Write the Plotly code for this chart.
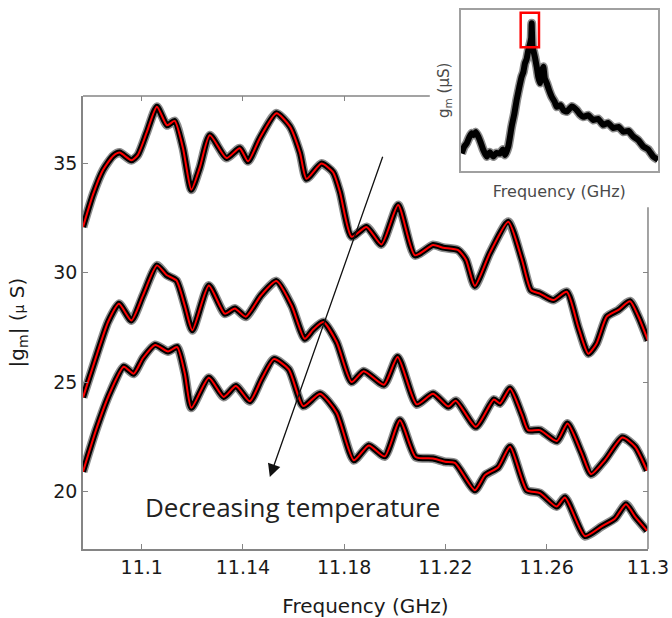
import plotly.graph_objects as go

# ---- transconductance sweeps (GHz, uS): smoothed |gm| ----
freq_t1 = [11.0768, 11.0808, 11.0847, 11.0887, 11.0913, 11.0959, 11.0985, 11.1019,
           11.1060, 11.1100, 11.1130, 11.1163, 11.1196, 11.1229, 11.1269, 11.1335,
           11.1387, 11.1420, 11.1466, 11.1532, 11.1585, 11.1625, 11.1651, 11.1710,
           11.1756, 11.1783, 11.1829, 11.1888, 11.1947, 11.2013, 11.2079, 11.2151,
           11.2191, 11.2250, 11.2281, 11.2316, 11.2375, 11.2448, 11.2502, 11.2538,
           11.2573, 11.2626, 11.2679, 11.2725, 11.2764, 11.2797, 11.2837, 11.2883,
           11.2929, 11.2962, 11.3000]
gm_t1 = [32.1, 33.6, 34.7, 35.35, 35.5, 35.15, 35.4, 36.4,
         37.6, 36.75, 36.95, 35.7, 33.8, 34.8, 36.3, 35.25,
         35.7, 35.1, 36.15, 37.3, 36.7, 35.5, 34.3, 35.0,
         34.6, 33.7, 31.65, 32.1, 31.3, 33.1, 30.8, 31.27,
         31.15, 31.04, 30.6, 29.4, 30.9, 32.34, 30.6, 29.2,
         29.05, 28.75, 29.13, 27.5, 26.3, 26.77, 27.99, 28.3,
         28.7, 28.0, 26.9]

freq_t2 = [11.0768, 11.0821, 11.0867, 11.0910, 11.0959, 11.1005, 11.1060, 11.1098,
           11.1137, 11.1170, 11.1200, 11.1265, 11.1328, 11.1368, 11.1411, 11.1470,
           11.1532, 11.1592, 11.1644, 11.1677, 11.1717, 11.1770, 11.1829, 11.1877,
           11.1957, 11.2011, 11.2086, 11.2151, 11.2211, 11.2241, 11.2320, 11.2391,
           11.2415, 11.2455, 11.2502, 11.2526, 11.2573, 11.2640, 11.2682, 11.2738,
           11.2775, 11.2830, 11.2899, 11.2949, 11.2996]
gm_t2 = [24.3, 26.2, 27.75, 28.58, 27.82, 28.97, 30.34, 29.9,
         29.65, 28.5, 27.37, 29.42, 28.13, 28.37, 27.99, 28.95,
         29.62, 28.5, 26.98, 27.4, 27.75, 26.83, 25.0, 25.5,
         24.88, 26.15, 23.98, 24.47, 23.88, 24.15, 22.95, 24.2,
         24.02, 24.71, 23.5, 22.8, 22.8, 22.3, 23.1, 21.74,
         20.78, 21.43, 22.46, 22.04, 20.95]

freq_t3 = [11.0768, 11.0821, 11.0874, 11.0929, 11.0968, 11.1005, 11.1053, 11.1104,
           11.1140, 11.1170, 11.1196, 11.1265, 11.1324, 11.1372, 11.1427, 11.1474,
           11.1522, 11.1581, 11.1638, 11.1704, 11.1770, 11.1838, 11.1897, 11.1960,
           11.2020, 11.2082, 11.2151, 11.2198, 11.2237, 11.2316, 11.2356, 11.2408,
           11.2455, 11.2521, 11.2573, 11.2639, 11.2672, 11.2751, 11.2817, 11.2870,
           11.2913, 11.2949, 11.2996]
gm_t3 = [20.9, 22.86, 24.5, 25.7, 25.38, 26.1, 26.7, 26.4,
         26.6, 25.4, 23.82, 25.2, 24.32, 24.82, 24.12, 25.15,
         26.05, 25.58, 23.9, 24.47, 23.6, 21.42, 22.1, 21.6,
         23.25, 21.57, 21.5, 21.35, 21.3, 20.05, 20.74, 21.1,
         22.04, 20.05, 19.92, 19.3, 19.72, 17.95, 18.4, 18.76,
         19.41, 18.84, 18.2]

# ---- wide-band sweep shown in the inset ----
inset_freq = [10.358, 10.390, 10.419, 10.450, 10.480, 10.500, 10.530, 10.560,
              10.590, 10.621, 10.663, 10.700, 10.743, 10.780, 10.825, 10.860,
              10.886, 10.926, 10.967, 11.000, 11.028, 11.060, 11.089, 11.110,
              11.129, 11.150, 11.170, 11.190, 11.205, 11.211, 11.220, 11.231,
              11.250, 11.272, 11.290, 11.312, 11.335, 11.353, 11.370, 11.394,
              11.420, 11.455, 11.490, 11.516, 11.560, 11.600, 11.638, 11.700,
              11.759, 11.800, 11.840, 11.900, 11.962, 12.020, 12.084, 12.140,
              12.205, 12.270, 12.327, 12.390, 12.449, 12.510, 12.571, 12.630,
              12.693, 12.750]
inset_gm = [4.3, 6.0, 6.8, 8.3, 9.3, 8.9, 9.6, 8.5,
            7.0, 5.2, 3.5, 4.6, 3.5, 4.4, 4.3, 5.3,
            3.9, 6.0, 11.0, 14.2, 17.6, 20.8, 23.4, 24.6,
            26.7, 27.8, 30.0, 31.5, 33.0, 36.7, 31.2, 30.0,
            28.3, 25.9, 23.5, 21.8, 24.8, 25.9, 23.0, 21.8,
            20.2, 18.4, 17.2, 15.9, 16.3, 15.0, 14.7, 16.0,
            15.1, 14.0, 13.4, 13.8, 12.6, 12.9, 11.4, 11.9,
            10.6, 10.9, 9.7, 9.9, 8.5, 7.6, 6.0, 5.3,
            3.5, 2.7]

x_ticks = [11.1, 11.14, 11.18, 11.22, 11.26, 11.3]
x_tick_text = ["11.1", "11.14", "11.18", "11.22", "11.26", "11.3"]
y_ticks = [20, 25, 30, 35]

x_range = [11.0768, 11.3]
y_range = [17.36, 38.09]
zoom_window = [11.077, 11.30]   # span of the main sweep, marked on the inset

AXIS_GRAY = "#858585"
FONT = "DejaVu Sans"

fig = go.Figure()

for f, g in [(freq_t1, gm_t1), (freq_t2, gm_t2), (freq_t3, gm_t3)]:
    # raw measurement (black, with a soft halo for the noise spread)
    fig.add_trace(go.Scatter(x=f, y=g, mode="lines", hoverinfo="skip", showlegend=False,
                             line=dict(color="rgba(0,0,0,0.45)", width=9,
                                       shape="spline", smoothing=0.6)))
    fig.add_trace(go.Scatter(x=f, y=g, mode="lines", hoverinfo="skip", showlegend=False,
                             line=dict(color="black", width=6,
                                       shape="spline", smoothing=0.6)))
    # smoothed fit (red)
    fig.add_trace(go.Scatter(x=f, y=g, mode="lines", showlegend=False,
                             line=dict(color="#ff0000", width=2,
                                       shape="spline", smoothing=0.6)))

# inset trace
fig.add_trace(go.Scatter(x=inset_freq, y=inset_gm, mode="lines", showlegend=False,
                         xaxis="x2", yaxis="y2",
                         line=dict(color="rgba(0,0,0,0.45)", width=9,
                                   shape="spline", smoothing=0.4)))
fig.add_trace(go.Scatter(x=inset_freq, y=inset_gm, mode="lines", showlegend=False,
                         xaxis="x2", yaxis="y2",
                         line=dict(color="black", width=6,
                                   shape="spline", smoothing=0.4)))

# empty trace so the mirrored tick axes (top / right) get drawn
fig.add_trace(go.Scatter(x=[], y=[], xaxis="x3", yaxis="y3", showlegend=False))

MAIN_X_DOM = [0, 0.9758]
MAIN_Y_DOM = [0, 0.8404]

fig.update_layout(
    template="none",
    width=672, height=618,
    margin=dict(l=83, r=10, t=10, b=69, autoexpand=False),
    paper_bgcolor="white", plot_bgcolor="white",
    font=dict(family=FONT, color="#1a1a1a"),
    xaxis=dict(domain=MAIN_X_DOM, range=x_range, anchor="y", automargin=False,
               tickvals=x_ticks, ticktext=x_tick_text, ticks="inside", ticklen=5,
               tickcolor=AXIS_GRAY, tickfont=dict(size=19, family=FONT),
               showline=True, linecolor=AXIS_GRAY, linewidth=1.5,
               showgrid=False, zeroline=False,
               title=dict(text="Frequency (GHz)", font=dict(size=20, family=FONT),
                          standoff=22)),
    yaxis=dict(domain=MAIN_Y_DOM, range=y_range, anchor="x", automargin=False,
               tickvals=y_ticks, ticks="inside", ticklen=5,
               tickcolor=AXIS_GRAY, tickfont=dict(size=19, family=FONT),
               showline=True, linecolor=AXIS_GRAY, linewidth=1.5,
               showgrid=False, zeroline=False,
               title=dict(text="|g<sub>m</sub>| (<span style='font-size:14px'>μ</span> S)",
                          font=dict(size=20, family=FONT), standoff=23)),
    xaxis3=dict(overlaying="x", anchor="y", side="top", range=x_range, automargin=False,
                tickvals=[11.1, 11.14, 11.18], ticks="inside", ticklen=5,
                tickcolor=AXIS_GRAY, showticklabels=False,
                showline=False, showgrid=False, zeroline=False),
    yaxis3=dict(overlaying="y", anchor="x", side="right", range=y_range, automargin=False,
                tickvals=[20, 25, 30], ticks="inside", ticklen=5,
                tickcolor=AXIS_GRAY, showticklabels=False,
                showline=False, showgrid=False, zeroline=False),
    xaxis2=dict(domain=[0.6523, 0.9931], range=[10.346, 12.75], anchor="y2",
                automargin=False,
                showticklabels=False, ticks="", showgrid=False, zeroline=False,
                showline=True, mirror=True, linecolor="#a0a0a0", linewidth=1.5,
                title=dict(text="Frequency (GHz)", standoff=14,
                           font=dict(size=16, family=FONT, color="#4a4a4a"))),
    yaxis2=dict(domain=[0.7019, 1.0], range=[0, 40], anchor="x2", automargin=False,
                showticklabels=False, ticks="", showgrid=False, zeroline=False,
                showline=True, mirror=True, linecolor="#a0a0a0", linewidth=1.5,
                title=dict(text="g<sub>m</sub> (μS)", standoff=6,
                           font=dict(size=15, family=FONT, color="#4a4a4a"))),
)

# main frame: top and right edges stop where the inset sits
fig.add_shape(type="line", xref="x", yref="y domain", x0=x_range[0], x1=11.2138,
              y0=1, y1=1, line=dict(color=AXIS_GRAY, width=1.5))
fig.add_shape(type="line", xref="x domain", yref="y", x0=1, x1=1,
              y0=y_range[0], y1=33.0, line=dict(color=AXIS_GRAY, width=1.5))

# zoom window marked on the inset
fig.add_shape(type="rect", xref="x2", yref="y2", x0=zoom_window[0], x1=zoom_window[1],
              y0=30.7, y1=39.3, line=dict(color="#ff0000", width=2.5))

# temperature arrow and caption
fig.add_annotation(x=11.1506, y=20.65, ax=11.1954, ay=35.38, xref="x", yref="y",
                   axref="x", ayref="y", text="", showarrow=True,
                   arrowhead=2, arrowsize=2, arrowwidth=1.3, arrowcolor="#111111")
fig.add_annotation(x=11.1597, y=19.28, xref="x", yref="y", showarrow=False,
                   text="Decreasing temperature",
                   font=dict(family="Open Sans", size=26, color="#222222"))

fig.write_html("out.html")
